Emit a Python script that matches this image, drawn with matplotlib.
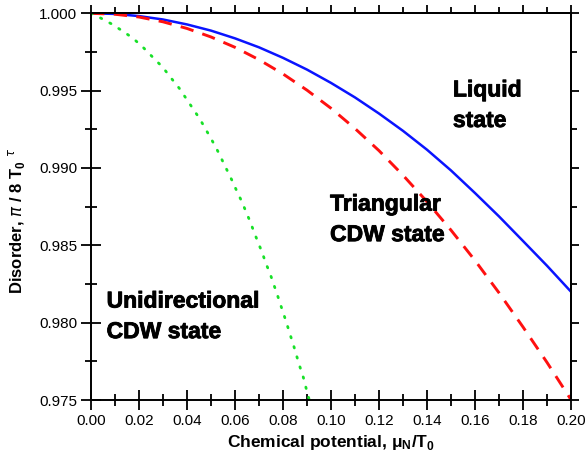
import matplotlib
matplotlib.use("Agg")
import matplotlib.pyplot as plt
import matplotlib.patheffects as pe
from matplotlib.ticker import MultipleLocator

plt.rcParams['font.family'] = ['Liberation Sans', 'DejaVu Sans']
plt.rcParams['mathtext.fontset'] = 'custom'
plt.rcParams['mathtext.rm'] = 'Liberation Sans'
plt.rcParams['mathtext.bf'] = 'Liberation Sans:bold'

# values
mu = [0.00, 0.01, 0.02, 0.03, 0.04, 0.05, 0.06, 0.07, 0.08, 0.09, 0.10,
      0.11, 0.12, 0.13, 0.14, 0.15, 0.16, 0.17, 0.18, 0.19, 0.20]
liquid = [1.00000, 0.99996, 0.99982, 0.99960, 0.99928, 0.99888, 0.99838,
          0.99780, 0.99712, 0.99636, 0.99550, 0.99456, 0.99352, 0.99240,
          0.99118, 0.98984, 0.98838, 0.98687, 0.98528, 0.98368, 0.98200]
triangular = [1.00000, 0.99994, 0.99976, 0.99945, 0.99902, 0.99847, 0.99780,
              0.99700, 0.99608, 0.99503, 0.99386, 0.99255, 0.99112, 0.98953,
              0.98782, 0.98598, 0.98402, 0.98193, 0.97972, 0.97743, 0.97502]

mu_uni = [0.0000, 0.0042, 0.0086, 0.0130, 0.0174, 0.0217, 0.0258, 0.0299,
          0.0333, 0.0367, 0.0397, 0.0425, 0.0453, 0.0478, 0.0503, 0.0526,
          0.0547, 0.0568, 0.0589, 0.0608, 0.0628, 0.0646, 0.0664, 0.0680,
          0.0697, 0.0714, 0.0729, 0.0746, 0.0761, 0.0776, 0.0790, 0.0804,
          0.0818, 0.0832, 0.0845, 0.0858, 0.0871, 0.0885, 0.0896, 0.0907,
          0.0910]
unidirectional = [1.00000, 0.99968, 0.99931, 0.99887, 0.99840, 0.99780,
                  0.99715, 0.99651, 0.99583, 0.99517, 0.99448, 0.99383,
                  0.99318, 0.99250, 0.99182, 0.99116, 0.99049, 0.98982,
                  0.98915, 0.98849, 0.98784, 0.98717, 0.98650, 0.98583,
                  0.98516, 0.98450, 0.98382, 0.98318, 0.98249, 0.98182,
                  0.98115, 0.98050, 0.97982, 0.97912, 0.97848, 0.97779,
                  0.97712, 0.97645, 0.97578, 0.97514, 0.97500]

fig = plt.figure(figsize=(5.85, 4.68), dpi=100)
ax = fig.add_axes([91 / 585, 1 - 400 / 468, 480 / 585, 386.7 / 468])

ax.plot(mu, liquid, color="#0a14ff", lw=1.8, solid_capstyle="butt")
ax.plot(mu, triangular, color="#ff1010", lw=2.1, linestyle=(0, (4.6, 3.2)))
ax.plot(mu_uni, unidirectional, color="#18e028", lw=2.0,
        linestyle=(0, (0.5, 3.3)), dash_capstyle="round")

ax.set_xlim(0.0, 0.20)
ax.set_ylim(0.975, 1.000)
ax.xaxis.set_major_locator(MultipleLocator(0.02))
ax.xaxis.set_minor_locator(MultipleLocator(0.01))
ax.yaxis.set_major_locator(MultipleLocator(0.005))
ax.yaxis.set_minor_locator(MultipleLocator(0.0025))
ax.xaxis.set_major_formatter(lambda v, p: f"{v:.2f}")
ax.yaxis.set_major_formatter(lambda v, p: f"{v:.3f}")

for s in ax.spines.values():
    s.set_linewidth(1.4)
ax.tick_params(which="major", direction="inout", length=14, width=1.3,
               labelsize=11, pad=3)
ax.tick_params(which="minor", direction="inout", length=8, width=1.3)

# top / right ticks point outward only
top = ax.secondary_xaxis("top")
top.xaxis.set_major_locator(MultipleLocator(0.02))
top.xaxis.set_minor_locator(MultipleLocator(0.01))
top.tick_params(which="major", direction="out", length=6, width=1.3, labeltop=False)
top.tick_params(which="minor", direction="out", length=4, width=1.3)
right = ax.secondary_yaxis("right")
right.yaxis.set_major_locator(MultipleLocator(0.005))
right.yaxis.set_minor_locator(MultipleLocator(0.0025))
right.tick_params(which="major", direction="out", length=6, width=1.3, labelright=False)
right.tick_params(which="minor", direction="out", length=4, width=1.3)
for sec in (top, right):
    for s in sec.spines.values():
        s.set_linewidth(1.4)

ax.set_xlabel(r"Chemical potential, $\mathbf{\mu_N}$/T$_\mathbf{0}$",
              fontsize=12.5, fontweight="bold", labelpad=4)
ax.set_ylabel(r"Disorder, $\pi$ / 8 T$_\mathbf{0}$ $^\tau$",
              fontsize=12, fontweight="bold")
ax.yaxis.set_label_coords(-0.133, 0.463)

# y anchors are the baselines of the second lines
heavy = [pe.withStroke(linewidth=0.6, foreground="black")]
txt = dict(fontsize=16.5, fontweight="bold", va="baseline", ha="left",
           linespacing=1.42, path_effects=heavy)
ax.text(0.1508, 0.99265, "Liquid\nstate", **txt)
ax.text(0.0996, 0.98527, "Triangular\nCDW state", **txt)
ax.text(0.0065, 0.97900, "Unidirectional\nCDW state", **txt)

fig.savefig("out.png", dpi=100)
